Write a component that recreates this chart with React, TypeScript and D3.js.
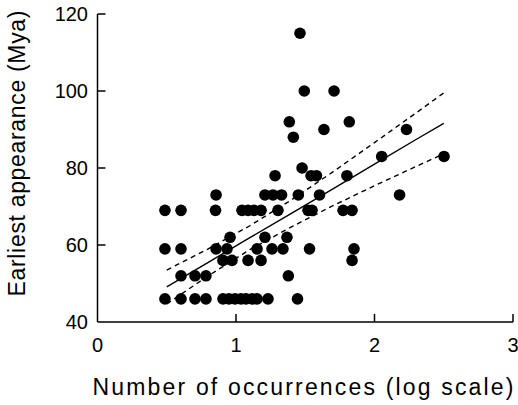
import React from "react";
import * as d3 from "d3";

// Number of occurrences (log10) for each taxon
const occurrencesLog = [
  // 46 Mya row
  0.487, 0.603, 0.704, 0.783, 0.906, 0.949, 0.993, 1.036, 1.072, 1.116, 1.152, 1.231, 1.444,
  // 52
  0.603, 0.704, 0.783, 1.378,
  // 56
  0.906, 0.971, 1.087, 1.181, 1.838,
  // 59
  0.487, 0.603, 0.856, 0.935, 1.152, 1.26, 1.339, 1.531, 1.852,
  // 62
  0.957, 1.209, 1.368,
  // 69
  0.487, 0.603, 0.852, 1.043, 1.087, 1.13, 1.181, 1.303, 1.52, 1.549, 1.773, 1.838,
  // 73
  0.856, 1.209, 1.267, 1.329, 1.45, 1.603, 2.181,
  // 78
  1.282, 1.542, 1.581, 1.801,
  // 80
  1.477,
  // 83
  2.052, 2.502,
  // 88
  1.414,
  // 90
  1.635, 2.231,
  // 92
  1.385, 1.818,
  // 100
  1.493, 1.708,
  // 115
  1.462,
];

const earliestMya = [
  46, 46, 46, 46, 46, 46, 46, 46, 46, 46, 46, 46, 46,
  52, 52, 52, 52,
  56, 56, 56, 56, 56,
  59, 59, 59, 59, 59, 59, 59, 59, 59,
  62, 62, 62,
  69, 69, 69, 69, 69, 69, 69, 69, 69, 69, 69, 69,
  73, 73, 73, 73, 73, 73, 73,
  78, 78, 78, 78,
  80,
  83, 83,
  88,
  90, 90,
  92, 92,
  100, 100,
  115,
];

// Regression line and confidence band
const fitX = [0.5, 0.8, 1.1, 1.4, 1.7, 2.0, 2.3, 2.5];
const fitY = [49.1, 55.5, 61.9, 68.2, 74.6, 81.0, 87.4, 91.6];
const bandUpper = [53.5, 59.0, 65.0, 71.7, 79.0, 86.6, 94.3, 99.5];
const bandLower = [44.7, 52.0, 58.8, 64.7, 70.2, 75.4, 80.4, 83.7];

const xTicks = [0, 1, 2, 3];
const yTicks = [40, 60, 80, 100, 120];

const W = 518;
const H = 405;
const FONT = "'Liberation Sans', Arial, Helvetica, sans-serif";

export default function App() {
  const x = d3.scaleLinear().domain([0, 3]).range([97.5, 513]);
  const y = d3.scaleLinear().domain([40, 120]).range([322, 14]);

  const line = d3
    .line<number>()
    .x((_, i) => x(fitX[i]))
    .y((v) => y(v));

  const tickLen = 8;

  return (
    <svg
      width={W}
      height={H}
      style={{ position: "absolute", left: 0, top: 0, background: "#fff" }}
    >
      {/* axes */}
      <g stroke="#000" strokeWidth={1.5} fill="none">
        <line x1={x(0)} x2={x(0)} y1={y(120)} y2={y(40)} />
        <line x1={x(0)} x2={x(3)} y1={y(40)} y2={y(40)} />
        {xTicks.slice(1).map((t) => (
          <line key={"xt" + t} x1={x(t)} x2={x(t)} y1={y(40)} y2={y(40) - tickLen} />
        ))}
        {yTicks.slice(1).map((t) => (
          <line key={"yt" + t} x1={x(0)} x2={x(0) + tickLen} y1={y(t)} y2={y(t)} />
        ))}
      </g>
      {/* tick labels */}
      <g fontFamily={FONT} fontSize={20} fill="#000">
        {xTicks.map((t) => (
          <text key={"xl" + t} x={x(t)} y={352} textAnchor="middle">
            {t}
          </text>
        ))}
        {yTicks.map((t) => (
          <text key={"yl" + t} x={88} y={y(t) + 7} textAnchor="end">
            {t}
          </text>
        ))}
      </g>
      {/* axis titles */}
      <text
        x={303}
        y={395}
        textAnchor="middle"
        fontFamily={FONT}
        fontSize={23}
        textLength={421}
        lengthAdjust="spacing"
      >
        Number of occurrences (log scale)
      </text>
      <text
        transform={`translate(25,153.5) rotate(-90)`}
        textAnchor="middle"
        fontFamily={FONT}
        fontSize={23}
        textLength={286}
        lengthAdjust="spacing"
      >
        Earliest appearance (Mya)
      </text>
      {/* regression and band */}
      <path d={line(fitY) || ""} stroke="#000" strokeWidth={1.4} fill="none" />
      <path
        d={line(bandUpper) || ""}
        stroke="#000"
        strokeWidth={1.4}
        strokeDasharray="5,4"
        fill="none"
      />
      <path
        d={line(bandLower) || ""}
        stroke="#000"
        strokeWidth={1.4}
        strokeDasharray="5,4"
        fill="none"
      />
      {/* points */}
      <g fill="#000">
        {occurrencesLog.map((v, i) => (
          <circle key={i} cx={x(v)} cy={y(earliestMya[i])} r={5.8} />
        ))}
      </g>
    </svg>
  );
}
